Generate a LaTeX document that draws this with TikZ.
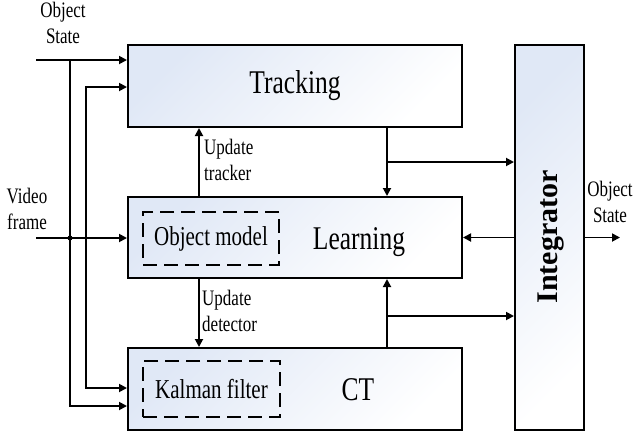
\documentclass[tikz,border=0pt]{standalone}
\usepackage{fontspec}
\setmainfont{Liberation Serif}
\usetikzlibrary{arrows.meta}
\newcommand\vstr[1]{\scalebox{1}[1.3]{#1}}
\definecolor{boxblue}{RGB}{224,232,246}
\begin{document}
\begin{tikzpicture}[x=1pt,y=-1pt,
  box/.style={draw, line width=2pt, rectangle, inner sep=0, top color=boxblue, bottom color=white, shading angle=45},
  dbox/.style={draw, line width=1.8pt, dash pattern=on 14pt off 7pt, inner sep=0},
  arr/.style={line width=1.8pt, -{Triangle[length=8pt,width=8pt]}},
  ln/.style={line width=1.8pt},
  small/.style={font=\fontsize{17}{20.5}\selectfont, inner sep=0},
  mid/.style={font=\fontsize{21}{25}\selectfont, inner sep=0},
  big/.style={font=\fontsize{25.5}{30}\selectfont, inner sep=0}]
\useasboundingbox (0,0) rectangle (634,432);

% main boxes
\node[box, big, minimum width=334pt, minimum height=82pt] (tracking) at (295,86) {\vstr{Tracking}};
\node[box, minimum width=334pt, minimum height=81pt] (learning) at (295,237.5) {};
\node[box, minimum width=334pt, minimum height=82pt] (ct) at (295,389) {};
\node[box, minimum width=69pt, minimum height=385pt] (integ) at (549.5,237.5) {};
\node[rotate=90, font=\fontsize{30}{36}\selectfont\bfseries, inner sep=0] (integlab) at (551,237) {Integrator};

% inner dashed boxes
\node[dbox, mid, minimum width=136pt, minimum height=53pt] (om) at (211,238.5) {\vstr{Object model}};
\node[dbox, mid, minimum width=137pt, minimum height=56pt] (kf) at (211.5,389) {\vstr{Kalman filter}};

% box labels
\node[big, anchor=base] (learnlab) at (359,249) {\vstr{Learning}};
\node[big, anchor=base] (ctlab) at (358,400) {\vstr{CT}};

% side labels
\node[small] (osl) at (63,25) {\vstr{\begin{tabular}{@{}c@{}}Object\\State\end{tabular}}};
\node[small] (vfl) at (27,211) {\vstr{\begin{tabular}{@{}c@{}}Video\\frame\end{tabular}}};
\node[small] (osr) at (610,204) {\vstr{\begin{tabular}{@{}c@{}}Object\\State\end{tabular}}};
\node[small, anchor=west] (utl) at (204,162) {\vstr{\begin{tabular}{@{}l@{}}Update\\tracker\end{tabular}}};
\node[small, anchor=west] (udl) at (202,313) {\vstr{\begin{tabular}{@{}l@{}}Update\\detector\end{tabular}}};

% left inputs
\coordinate (osin) at (36,60);
\coordinate (j1) at (70,60);
\coordinate (c406) at (70,406);
\draw[arr] (osin) -- (tracking.west |- osin);
\draw[arr] (j1) -- (c406) -- (ct.west |- c406);
\coordinate (l86t) at (86,87);
\coordinate (l86b) at (86,388);
\draw[line width=1.8pt, {Triangle[length=8pt,width=8pt]}-{Triangle[length=8pt,width=8pt]}]
  (tracking.west |- l86t) -- (l86t) -- (l86b) -- (ct.west |- l86b);
\coordinate (vin) at (36,238);
\draw[arr] (vin) -- (learning.west |- vin);
\node[circle, fill, inner sep=0, minimum size=5pt] (dot) at (70,238) {};

% update arrows
\coordinate (ux) at (199,0);
\draw[arr] (learning.north -| ux) -- (tracking.south -| ux);
\draw[arr] (learning.south -| ux) -- (ct.north -| ux);

% right side
\coordinate (tl) at (387,0);
\draw[arr] (tracking.south -| tl) -- (learning.north -| tl);
\coordinate (b1) at (387,162);
\draw[arr] (b1) -- (integ.west |- b1);
\draw[arr] (ct.north -| tl) -- (learning.south -| tl);
\coordinate (b2) at (387,316);
\draw[arr] (b2) -- (integ.west |- b2);
\draw[arr] (integ.west) -- (learning.east);
\coordinate (out) at (620,237.5);
\draw[arr] (integ.east) -- (out);
\end{tikzpicture}
\end{document}
